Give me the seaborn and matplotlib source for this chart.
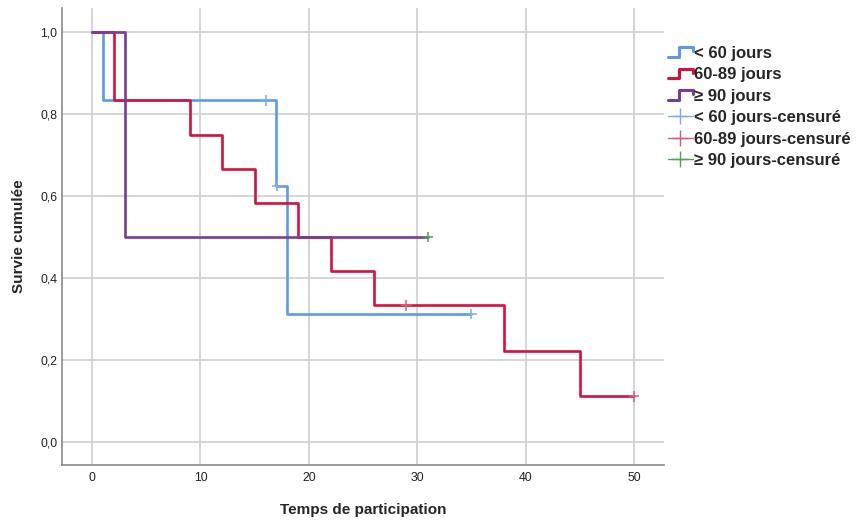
import numpy as np
import pandas as pd
import matplotlib
matplotlib.use("Agg")
import matplotlib.pyplot as plt
from matplotlib.lines import Line2D
from matplotlib.legend_handler import HandlerBase
import seaborn as sns

# Kaplan-Meier step curves per group (time, cumulative survival)
groups = ["< 60 jours", "60-89 jours", "\u2265 90 jours"]
times_lt60 = [0, 1, 17, 18, 35]
surv_lt60 = [1.0, 0.8333, 0.625, 0.3125, 0.3125]
times_60_89 = [0, 2, 9, 12, 15, 19, 22, 26, 38, 45, 50]
surv_60_89 = [1.0, 0.8333, 0.75, 0.6667, 0.5833, 0.5, 0.4167, 0.3333, 0.2222, 0.1111, 0.1111]
times_ge90 = [0, 3, 31]
surv_ge90 = [1.0, 0.5, 0.5]

# Censored observations
cens_t_lt60 = [16, 17.1, 35]
cens_s_lt60 = [0.8333, 0.625, 0.3125]
cens_t_60_89 = [29, 50]
cens_s_60_89 = [0.3333, 0.1111]
cens_t_ge90 = [31]
cens_s_ge90 = [0.5]

x_ticks = [0, 10, 20, 30, 40, 50]
y_ticks = [0.0, 0.2, 0.4, 0.6, 0.8, 1.0]
y_ticklabels = ["0,0", "0,2", "0,4", "0,6", "0,8", "1,0"]

line_colors = ["#5B9BE8", "#DA0F3E", "#7D3A98"]
cens_colors = ["#78AEEE", "#E2587A", "#4CA64C"]

curves = pd.concat([
    pd.DataFrame({"t": times_lt60, "s": surv_lt60, "g": groups[0]}),
    pd.DataFrame({"t": times_60_89, "s": surv_60_89, "g": groups[1]}),
    pd.DataFrame({"t": times_ge90, "s": surv_ge90, "g": groups[2]}),
], ignore_index=True)
censored = pd.concat([
    pd.DataFrame({"t": cens_t_lt60, "s": cens_s_lt60, "g": groups[0]}),
    pd.DataFrame({"t": cens_t_60_89, "s": cens_s_60_89, "g": groups[1]}),
    pd.DataFrame({"t": cens_t_ge90, "s": cens_s_ge90, "g": groups[2]}),
], ignore_index=True)

sns.set_style("white")
plt.rcParams["font.family"] = ["Liberation Sans", "DejaVu Sans"]

fig = plt.figure(figsize=(8.58, 5.21), dpi=100)
ax = fig.add_axes([0.0723, 0.1075, 0.7017, 0.8771])

for x in x_ticks:
    ax.axvline(x, color="#CFCFCF", lw=1.2, zorder=0)
for y in y_ticks:
    ax.axhline(y, color="#CFCFCF", lw=1.2, zorder=0)

sns.lineplot(data=curves, x="t", y="s", hue="g", hue_order=groups,
             palette=line_colors, estimator=None, sort=False,
             drawstyle="steps-post", linewidth=1.9, legend=False, ax=ax, zorder=3)

sns.scatterplot(data=censored, x="t", y="s", hue="g", hue_order=groups,
                palette=cens_colors, marker="+", s=55, linewidth=1.1,
                legend=False, ax=ax, zorder=4)

ax.set_xlim(-2.77, 52.77)
ax.set_ylim(-0.056, 1.0585)
ax.set_xticks(x_ticks)
ax.set_xticklabels([str(v) for v in x_ticks])
ax.set_yticks(y_ticks)
ax.set_yticklabels(y_ticklabels)
ax.tick_params(axis="both", labelsize=8.8, colors="#222222", length=0, pad=5)
ax.tick_params(axis="y", length=2, color="#888888", pad=1.5)

for side in ["top", "right"]:
    ax.spines[side].set_visible(False)
for side in ["left", "bottom"]:
    ax.spines[side].set_color("#8A8A8A")
    ax.spines[side].set_linewidth(1.2)

ax.set_xlabel("Temps de participation", fontsize=11, fontweight="bold", labelpad=13.5)
ax.set_ylabel("Survie cumulée", fontsize=11, fontweight="bold", labelpad=10)


class StepHandler(HandlerBase):
    def create_artists(self, legend, orig_handle, xdescent, ydescent,
                       width, height, fontsize, trans):
        x0, x1 = -xdescent, -xdescent + width
        xm = x0 + 0.45 * width
        ylo, yhi = -ydescent + 0.1 * height, -ydescent + 0.9 * height
        ln = Line2D([x0, xm, xm, x1, x1], [ylo, ylo, yhi, yhi, yhi - 0.35 * height],
                    color=orig_handle.get_color(), lw=2.2, transform=trans)
        return [ln]


step_handles = [Line2D([], [], color=c) for c in line_colors]
cens_handles = [Line2D([], [], color=c, marker="+", markersize=11, mew=1.0, lw=1.0)
                for c in cens_colors]
labels = groups + [g + "-censuré" for g in groups]
handler_map = {h: StepHandler() for h in step_handles}
leg = fig.legend(step_handles + cens_handles, labels, handler_map=handler_map,
                 loc="upper left", bbox_to_anchor=(0.7706, 0.925), frameon=False,
                 prop={"size": 12, "weight": "bold"}, handlelength=1.5,
                 handletextpad=0.05, labelspacing=0.39, borderaxespad=0)

fig.savefig("out.png", dpi=100)
